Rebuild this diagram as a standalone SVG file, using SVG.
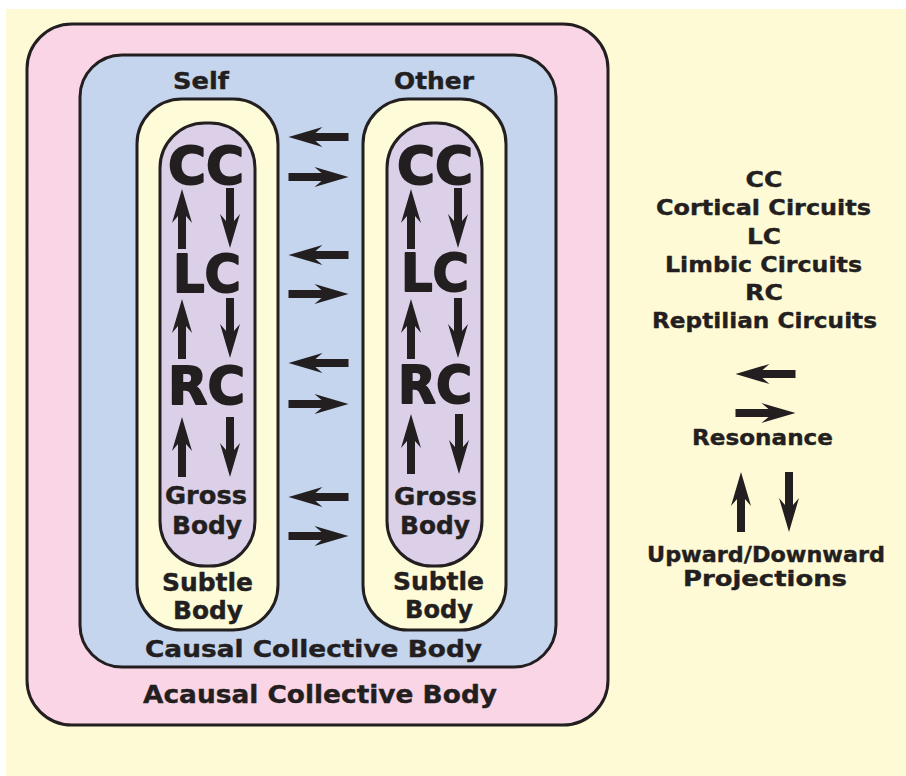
<svg xmlns="http://www.w3.org/2000/svg" xmlns:xlink="http://www.w3.org/1999/xlink" width="906" height="776" viewBox="0 0 906 776">
<style>
.box{stroke:#231f20;stroke-width:3}
.t{font-family:"DejaVu Sans","Liberation Sans",sans-serif;font-weight:bold;fill:#231f20;stroke:#231f20;stroke-width:0.4;stroke-linejoin:round;text-anchor:middle}
.big{font-size:51px;stroke-width:1.8}
.mid{font-size:24px}
.lab{font-size:22px}
.arr{fill:#231f20}
</style>
<defs>
<path id="ar" d="M-30,-4 H3 L-4,-10 L30,0 L-4,10 L3,4 H-30 Z"/>
</defs>
<rect x="0" y="0" width="906" height="776" fill="#ffffff"/>
<rect x="6" y="9" width="900" height="767" fill="#fffad6"/>
<g id="acausal">
<rect class="box" x="27" y="24" width="581" height="701" rx="45" fill="#fad5e6"/>
<text class="t" x="320" y="703" font-size="25" textLength="354" lengthAdjust="spacingAndGlyphs">Acausal Collective Body</text>
</g>
<g id="causal">
<rect class="box" x="80" y="55" width="476" height="612" rx="42" fill="#c5d5ee"/>
<text class="t" x="313.5" y="657" font-size="23" textLength="337" lengthAdjust="spacingAndGlyphs">Causal Collective Body</text>
<text class="t" x="201" y="89" font-size="23" textLength="56" lengthAdjust="spacingAndGlyphs">Self</text>
<text class="t" x="434" y="89" font-size="23" textLength="80" lengthAdjust="spacingAndGlyphs">Other</text>
</g>
<g id="self-subtle">
<rect class="box" x="137" y="99" width="141" height="531" rx="45" fill="#fefbd8"/>
<text class="t mid" x="207.5" y="591" textLength="91" lengthAdjust="spacingAndGlyphs">Subtle</text>
<text class="t mid" x="208" y="619" textLength="70" lengthAdjust="spacingAndGlyphs">Body</text>
</g>
<g id="self-gross">
<rect class="box" x="160" y="123" width="95" height="443" rx="45" fill="#dcd0e8"/>
<text class="t big" x="206" y="184" textLength="76" lengthAdjust="spacingAndGlyphs">CC</text>
<text class="t big" x="207" y="292" textLength="68" lengthAdjust="spacingAndGlyphs">LC</text>
<text class="t big" x="206.5" y="404" textLength="77" lengthAdjust="spacingAndGlyphs">RC</text>
<text class="t mid" x="206" y="504" textLength="82" lengthAdjust="spacingAndGlyphs">Gross</text>
<text class="t mid" x="207" y="534" textLength="70" lengthAdjust="spacingAndGlyphs">Body</text>
</g>
<g id="other-subtle">
<rect class="box" x="363" y="99" width="143" height="531" rx="45" fill="#fefbd8"/>
<text class="t mid" x="438.5" y="590" textLength="91" lengthAdjust="spacingAndGlyphs">Subtle</text>
<text class="t mid" x="439" y="618" textLength="68" lengthAdjust="spacingAndGlyphs">Body</text>
</g>
<g id="other-gross">
<rect class="box" x="387" y="123" width="95" height="443" rx="45" fill="#dcd0e8"/>
<text class="t big" x="435" y="184" textLength="76" lengthAdjust="spacingAndGlyphs">CC</text>
<text class="t big" x="435" y="291" textLength="68" lengthAdjust="spacingAndGlyphs">LC</text>
<text class="t big" x="435" y="403" textLength="74" lengthAdjust="spacingAndGlyphs">RC</text>
<text class="t mid" x="435.5" y="505" textLength="83" lengthAdjust="spacingAndGlyphs">Gross</text>
<text class="t mid" x="435" y="534" textLength="70" lengthAdjust="spacingAndGlyphs">Body</text>
</g>
<g id="legend">
<text class="t lab" x="764" y="187" textLength="37" lengthAdjust="spacingAndGlyphs">CC</text>
<text class="t lab" x="763.5" y="215" textLength="215" lengthAdjust="spacingAndGlyphs">Cortical Circuits</text>
<text class="t lab" x="764" y="244" textLength="34" lengthAdjust="spacingAndGlyphs">LC</text>
<text class="t lab" x="763.5" y="272" textLength="197" lengthAdjust="spacingAndGlyphs">Limbic Circuits</text>
<text class="t lab" x="764" y="300" textLength="38" lengthAdjust="spacingAndGlyphs">RC</text>
<text class="t lab" x="764.5" y="328" textLength="225" lengthAdjust="spacingAndGlyphs">Reptilian Circuits</text>
<text class="t lab" x="762.5" y="445" textLength="141" lengthAdjust="spacingAndGlyphs">Resonance</text>
<text class="t lab" x="766" y="562" textLength="238" lengthAdjust="spacingAndGlyphs">Upward/Downward</text>
<text class="t lab" x="765" y="586" textLength="164" lengthAdjust="spacingAndGlyphs">Projections</text>
</g>
<g id="connectors" class="arr">
<use xlink:href="#ar" transform="translate(318.5,137) rotate(180)"/>
<use xlink:href="#ar" transform="translate(318.5,177)"/>
<use xlink:href="#ar" transform="translate(318.5,255) rotate(180)"/>
<use xlink:href="#ar" transform="translate(318.5,294)"/>
<use xlink:href="#ar" transform="translate(318.5,363) rotate(180)"/>
<use xlink:href="#ar" transform="translate(318.5,404)"/>
<use xlink:href="#ar" transform="translate(318.5,497) rotate(180)"/>
<use xlink:href="#ar" transform="translate(318.5,536)"/>
<use xlink:href="#ar" transform="translate(182,219) rotate(-90)"/>
<use xlink:href="#ar" transform="translate(230,218) rotate(90)"/>
<use xlink:href="#ar" transform="translate(182,329) rotate(-90)"/>
<use xlink:href="#ar" transform="translate(230,328) rotate(90)"/>
<use xlink:href="#ar" transform="translate(182,447) rotate(-90)"/>
<use xlink:href="#ar" transform="translate(230,447) rotate(90)"/>
<use xlink:href="#ar" transform="translate(411,219) rotate(-90)"/>
<use xlink:href="#ar" transform="translate(458,218) rotate(90)"/>
<use xlink:href="#ar" transform="translate(411,329) rotate(-90)"/>
<use xlink:href="#ar" transform="translate(458,328) rotate(90)"/>
<use xlink:href="#ar" transform="translate(411,444) rotate(-90)"/>
<use xlink:href="#ar" transform="translate(459,444) rotate(90)"/>
<use xlink:href="#ar" transform="translate(765.5,374) rotate(180)"/>
<use xlink:href="#ar" transform="translate(765.5,413)"/>
<use xlink:href="#ar" transform="translate(741,502) rotate(-90)"/>
<use xlink:href="#ar" transform="translate(789,502) rotate(90)"/>
</g>
</svg>
